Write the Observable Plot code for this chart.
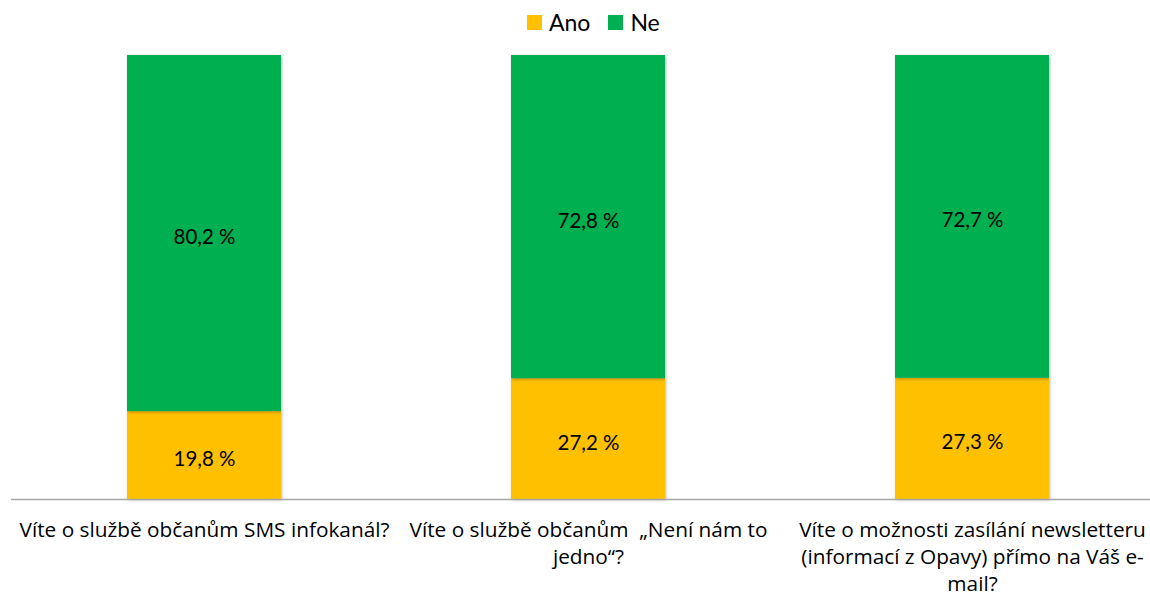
<!DOCTYPE html>
<html>
<head>
<meta charset="utf-8">
<script src="https://cdn.jsdelivr.net/npm/d3@7"></script>
<script src="https://cdn.jsdelivr.net/npm/@observablehq/plot@0.6"></script>
<style>
  html, body { margin: 0; padding: 0; background: #fff; overflow: hidden; width: 1150px; height: 598px; }
  body { font-family: Lato, "Open Sans", sans-serif; position: relative; }
  #legend { position: absolute; top: 8px; left: 527px; display: flex; align-items: center; font-size: 23px; color: #000; height: 28px; }
  #legend .sw { width: 15px; height: 15px; display: inline-block; margin-right: 7px; }
  #legend .item { display: flex; align-items: center; margin-right: 18px; }
  #chart { position: absolute; top: 40px; left: 0; }
  svg g[aria-label="bar"] rect { filter: drop-shadow(1px 1px 1.5px rgba(0,0,0,0.3)); }
</style>
</head>
<body>
<div id="legend"></div>
<div id="chart"></div>
<script>
const categories = [
  "Víte o službě občanům SMS infokanál?",
  "Víte o službě občanům  „Není nám to jedno“?",
  "Víte o možnosti zasílání newsletteru (informací z Opavy) přímo na Váš e-mail?"
];
const tickLabels = [
  "Víte o službě občanům SMS infokanál?",
  "Víte o službě občanům  „Není nám to\njedno“?",
  "Víte o možnosti zasílání newsletteru\n(informací z Opavy) přímo na Váš e-\nmail?"
];
const series = ["Ano", "Ne"];
const ano = [19.8, 27.2, 27.3];
const ne = [80.2, 72.8, 72.7];
const colors = ["#FFC000", "#00B050"];

const data = [];
categories.forEach((c, i) => {
  data.push({cat: c, series: "Ano", value: ano[i]});
  data.push({cat: c, series: "Ne", value: ne[i]});
});
const fmt = v => v.toFixed(1).replace(".", ",") + " %";

const legend = document.getElementById("legend");
series.forEach((s, i) => {
  const it = document.createElement("div");
  it.className = "item";
  it.innerHTML = `<span class="sw" style="background:${colors[i]}"></span><span>${s}</span>`;
  legend.appendChild(it);
});

const chart = Plot.plot({
  width: 1150,
  height: 558,
  marginTop: 15,
  marginBottom: 99,
  marginLeft: 11,
  marginRight: 0,
  style: {fontFamily: "Lato, 'Open Sans', sans-serif", color: "#000", background: "#fff", overflow: "visible"},
  x: {domain: categories, range: [11, 1164], paddingInner: 0.6, paddingOuter: 0.3, axis: null},
  y: {domain: [0, 100], axis: null},
  color: {domain: series, range: colors},
  marks: [
    Plot.barY(data, Plot.stackY({x: "cat", y: "value", fill: "series"})),
    Plot.text(data, Plot.stackY({x: "cat", y: "value", z: "series", text: d => fmt(d.value), fontSize: 20.5, dy: 4, fill: "#000"})),
    Plot.ruleY([0], {stroke: "#a6a6a6", strokeWidth: 1.5}),
    Plot.text(categories, {x: d => d, y: 0, text: (d, i) => tickLabels[i], lineAnchor: "top", dy: 19, fontSize: 20.8, fontFamily: "'Open Sans', sans-serif", lineHeight: 1.28, fill: "#000"})
  ]
});
document.getElementById("chart").appendChild(chart);
</script>
</body>
</html>
